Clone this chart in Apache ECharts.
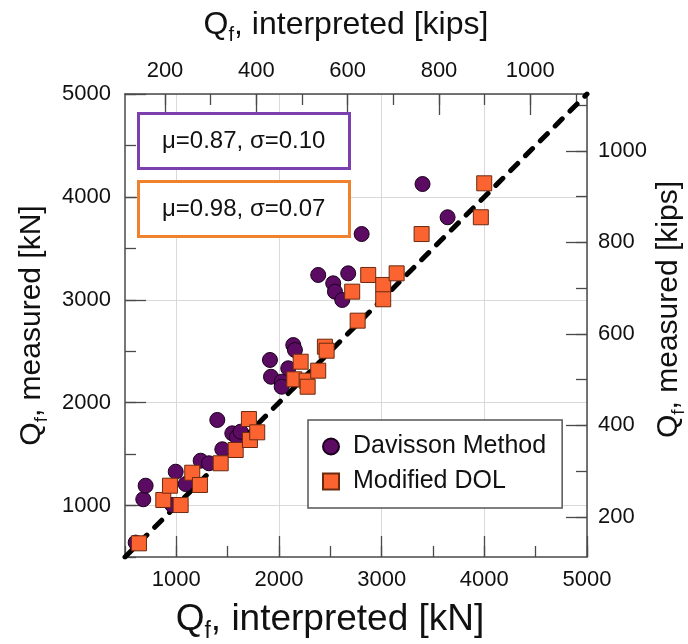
<!DOCTYPE html>
<html>
<head>
<meta charset="utf-8">
<style>
  html, body { margin: 0; padding: 0; background: #fff; }
  #chart { width: 688px; height: 644px; }
</style>
<script src="https://cdn.jsdelivr.net/npm/echarts@6/dist/echarts.min.js"></script>
</head>
<body>
<div id="chart"></div>
<script>
// Pile capacity: measured vs interpreted, kN with kip equivalents on the top/right axes
const KN_PER_KIP = 4.448;
const kNMin = 500;
const kNMax = 5000;
const kNMajor = [1000, 2000, 3000, 4000, 5000];
const kipMajor = [200, 400, 600, 800, 1000];
const kipMinor = [200, 300, 400, 500, 600, 700, 800, 900, 1000, 1100];

// [interpreted kN, measured kN]
const davisson = [
  [604, 640], [678, 1061], [701, 1193], [960, 1005], [994, 1329], [1091, 1209],
  [1237, 1436], [1318, 1411], [1399, 1832], [1448, 1547], [1545, 1702], [1590, 1665],
  [1626, 1718], [1912, 2415], [1922, 2252], [2026, 2204], [2026, 2155], [2090, 2334],
  [2139, 2560], [2155, 2512], [2382, 3241], [2528, 3160], [2545, 3079], [2616, 2998],
  [2674, 3257], [2805, 3639], [3398, 4125], [3642, 3802]
];
const modifiedDOL = [
  [636, 633], [873, 1054], [938, 1193], [1042, 1005], [1155, 1319], [1230, 1200],
  [1432, 1411], [1578, 1540], [1707, 1841], [1717, 1637], [1788, 1712], [2149, 2227],
  [2211, 2398], [2269, 2214], [2279, 2155], [2382, 2311], [2447, 2544], [2464, 2505],
  [2713, 3079], [2766, 2797], [2869, 3241], [3015, 3144], [3015, 3005], [3146, 3257],
  [3389, 3639], [3966, 3802], [3999, 4132]
];
const oneToOne = [[kNMin, kNMin], [kNMax, kNMax]];
const seriesNames = ['Davisson Method', 'Modified DOL'];
const statLabels = ['μ=0.87, σ=0.10', 'μ=0.98, σ=0.07'];
const statColors = ['#7b3fae', '#f0822e'];

const FONT = 'Liberation Sans, Arial, Helvetica, sans-serif';
const FRAME = '#4a4a4a';

// Axis title with a subscript "f"
function nameStyle(size, padding) {
  const lh = Math.round(size * 1.25);
  return {
    fontFamily: FONT,
    color: '#111',
    padding: padding || 0,
    rich: {
      a: { fontSize: size, fontFamily: FONT, color: '#111', lineHeight: lh },
      b: { fontSize: Math.round(size * 0.63), fontFamily: FONT, color: '#111', lineHeight: lh, verticalAlign: 'bottom' }
    }
  };
}
const tickLabel = { fontSize: 22, fontFamily: FONT, color: '#111', formatter: v => String(Math.round(v)) };

// Each side has a "minor" axis (frame line + short ticks) and a "major" axis
// (long ticks, labels, name) sharing the same range.
function minorAxis(position, min, max, extra) {
  return Object.assign({
    type: 'value', position, min, max,
    axisLine: { show: true, onZero: false, lineStyle: { color: FRAME, width: 1.5 } },
    axisTick: { show: true, inside: true, length: 11, lineStyle: { color: FRAME, width: 1.3 } },
    axisLabel: { show: false },
    splitLine: { show: false }
  }, extra);
}
function majorAxis(position, min, max, values, margin, name, nameGap, grid, nameSize, namePadding) {
  return {
    type: 'value', position, min, max,
    axisLine: { show: false, onZero: false },
    axisTick: { show: true, inside: true, length: 21, customValues: values, lineStyle: { color: FRAME, width: 1.3 } },
    axisLabel: Object.assign({ customValues: values, margin }, tickLabel),
    splitLine: { show: grid, lineStyle: { color: '#d9d9d9', width: 1 } },
    name, nameLocation: 'middle', nameGap, nameMoveOverlap: false,
    nameTextStyle: nameStyle(nameSize, namePadding)
  };
}

const kipMin = kNMin / KN_PER_KIP;
const kipMax = kNMax / KN_PER_KIP;
const kipMinorTick = { show: true, inside: true, length: 11, customValues: kipMinor, lineStyle: { color: FRAME, width: 1.3 } };

const option = {
  animation: false,
  backgroundColor: '#fff',
  grid: { left: 125, right: 101, top: 94, bottom: 87, containLabel: false, outerBoundsMode: 'none' },
  title: statLabels.map((t, i) => ({
    text: t,
    left: 138,
    top: 113 + i * 68,
    padding: [16, 24, 16, 24],
    borderColor: statColors[i],
    borderWidth: 3,
    backgroundColor: '#fff',
    textStyle: { fontSize: 24, fontWeight: 'normal', fontFamily: FONT, color: '#111' }
  })),
  legend: {
    data: seriesNames,
    orient: 'vertical',
    left: 308,
    top: 420,
    padding: [14, 16, 14, 14],
    itemGap: 10,
    itemWidth: 16,
    itemHeight: 16,
    borderColor: '#555',
    borderWidth: 1.5,
    backgroundColor: '#fff',
    textStyle: { fontSize: 25, fontFamily: FONT, color: '#111', padding: [0, 0, 0, 9] }
  },
  xAxis: [
    minorAxis('bottom', kNMin, kNMax, { interval: 500 }),
    majorAxis('bottom', kNMin, kNMax, kNMajor, 12, '{a|Q}{b|f}{a|, interpreted [kN]}', 40, true, 37, [0, 52, 0, 0]),
    minorAxis('top', kipMin, kipMax, { axisTick: kipMinorTick }),
    majorAxis('top', kipMin, kipMax, kipMajor, 12, '{a|Q}{b|f}{a|, interpreted [kips]}', 49, false, 32, [0, 20, 0, 0])
  ],
  yAxis: [
    minorAxis('left', kNMin, kNMax, { interval: 500 }),
    majorAxis('left', kNMin, kNMax, kNMajor, 14, '{a|Q}{b|f}{a|, measured [kN]}', 74, true, 30),
    minorAxis('right', kipMin, kipMax, { axisTick: kipMinorTick }),
    majorAxis('right', kipMin, kipMax, kipMajor, 11, '{a|Q}{b|f}{a|, measured [kips]}', 63, false, 30, [0, 0, 0, 32])
  ],
  series: [
    {
      type: 'line',
      data: oneToOne,
      xAxisIndex: 0, yAxisIndex: 0,
      symbol: 'none',
      silent: true,
      z: 1,
      lineStyle: { color: '#000', width: 5, type: [10, 11], cap: 'round' }
    },
    {
      name: seriesNames[0],
      type: 'scatter',
      data: davisson,
      xAxisIndex: 0, yAxisIndex: 0,
      symbol: 'circle',
      symbolSize: 15,
      z: 3,
      itemStyle: { color: '#5c0b63', borderColor: '#1a001c', borderWidth: 1, opacity: 1 }
    },
    {
      name: seriesNames[1],
      type: 'scatter',
      data: modifiedDOL,
      xAxisIndex: 0, yAxisIndex: 0,
      symbol: 'rect',
      symbolSize: 15,
      z: 4,
      itemStyle: { color: '#fb6430', borderColor: '#6b2a10', borderWidth: 1, opacity: 1 }
    }
  ]
};

const chart = echarts.init(document.getElementById('chart'), null, { renderer: 'canvas' });
chart.setOption(option);
</script>
</body>
</html>
